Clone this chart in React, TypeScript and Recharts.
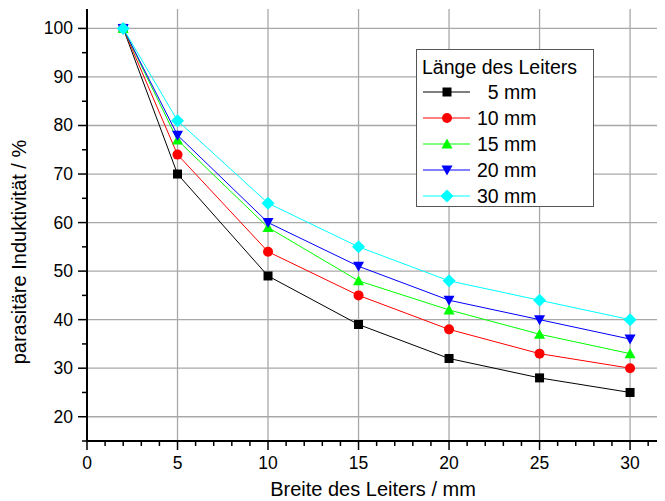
import React from 'react';
import {
  LineChart,
  Line,
  XAxis,
  YAxis,
  ReferenceLine,
  Legend
} from 'recharts';

const widths = [2, 5, 10, 15, 20, 25, 30];
const len5 = [100, 70, 49, 39, 32, 28, 25];
const len10 = [100, 74, 54, 45, 38, 33, 30];
const len15 = [100, 77, 59, 48, 42, 37, 33];
const len20 = [100, 78, 60, 51, 44, 40, 36];
const len30 = [100, 81, 64, 55, 48, 44, 40];

const xTicks = Array.from({ length: 32 }, (_, i) => i);
const yTicks = [15, 20, 25, 30, 35, 40, 45, 50, 55, 60, 65, 70, 75, 80, 85, 90, 95, 100];
const xGrid = [5, 10, 15, 20, 25, 30];
const yGrid = [20, 30, 40, 50, 60, 70, 80, 90, 100];

const data = widths.map((w, i) => ({
  w,
  l5: len5[i],
  l10: len10[i],
  l15: len15[i],
  l20: len20[i],
  l30: len30[i]
}));

const FONT = '"Liberation Sans", Arial, sans-serif';

type Shape = 'square' | 'circle' | 'up' | 'down' | 'diamond';

const series: { key: string; name: string; color: string; shape: Shape }[] = [
  { key: 'l5', name: '  5 mm', color: '#000000', shape: 'square' },
  { key: 'l10', name: '10 mm', color: '#ff0000', shape: 'circle' },
  { key: 'l15', name: '15 mm', color: '#00ff00', shape: 'up' },
  { key: 'l20', name: '20 mm', color: '#0000ff', shape: 'down' },
  { key: 'l30', name: '30 mm', color: '#00ffff', shape: 'diamond' }
];

const marker = (shape: Shape, cx: number, cy: number, color: string, key?: string) => {
  switch (shape) {
    case 'square':
      return <rect key={key} x={cx - 4.5} y={cy - 4.5} width={9} height={9} fill={color} />;
    case 'circle':
      return <circle key={key} cx={cx} cy={cy} r={5} fill={color} />;
    case 'up':
      return <polygon key={key} points={`${cx - 5.5},${cy + 4.5} ${cx + 5.5},${cy + 4.5} ${cx},${cy - 5.5}`} fill={color} />;
    case 'down':
      return <polygon key={key} points={`${cx - 5.5},${cy - 4.5} ${cx + 5.5},${cy - 4.5} ${cx},${cy + 5.5}`} fill={color} />;
    default:
      return <polygon key={key} points={`${cx},${cy - 6.5} ${cx + 6.5},${cy} ${cx},${cy + 6.5} ${cx - 6.5},${cy}`} fill={color} />;
  }
};

const XTick = (props: any) => {
  const { x, y, payload } = props;
  const major = payload.value % 5 === 0;
  return (
    <g>
      <line x1={x} x2={x} y1={y} y2={y + (major ? 9 : 5)} stroke="#000" strokeWidth={1.5} />
      {major && (
        <text x={x} y={y + 28} textAnchor="middle" fontSize={17.5} fontFamily={FONT} fill="#000">
          {payload.value}
        </text>
      )}
    </g>
  );
};

const YTick = (props: any) => {
  const { x, y, payload } = props;
  const major = payload.value % 10 === 0;
  return (
    <g>
      <line x1={x - (major ? 9 : 5)} x2={x} y1={y} y2={y} stroke="#000" strokeWidth={1.5} />
      {major && (
        <text x={x - 14} y={y + 6} textAnchor="end" fontSize={17.5} fontFamily={FONT} fill="#000">
          {payload.value}
        </text>
      )}
    </g>
  );
};

const XTitle = (props: any) => {
  const { viewBox } = props;
  return (
    <text x={viewBox.x + viewBox.width / 2 - 3} y={488} textAnchor="middle" fontSize={20} fontFamily={FONT} fill="#000">
      Breite des Leiters / mm
    </text>
  );
};

const YTitle = () => (
  <text
    x={18}
    y={244}
    transform="rotate(-90, 18, 244)"
    textAnchor="middle"
    fontSize={20}
    fontFamily={FONT}
    fill="#000"
  >
    parasitäre Induktivität / %
  </text>
);

const LegendBox = () => (
  <div
    style={{
      width: 178,
      height: 158,
      border: '1px solid #555',
      background: '#fff',
      boxSizing: 'border-box'
    }}
  >
    <svg width={176} height={156}>
      <text x={5} y={24} fontSize={19.5} fontFamily={FONT} fill="#000">
        Länge des Leiters
      </text>
      {series.map((s, i) => {
        const cy = 42 + i * 26;
        return (
          <g key={s.key}>
            <line x1={6} x2={53} y1={cy} y2={cy} stroke={s.color} strokeWidth={1} />
            {marker(s.shape, 30, cy, s.color)}
            <text x={60} y={cy + 7} fontSize={19.5} fontFamily={FONT} fill="#000" style={{ whiteSpace: 'pre' }}>
              {s.name}
            </text>
          </g>
        );
      })}
    </svg>
  </div>
);

export default function App() {
  return (
    <div style={{ width: 657, height: 493, position: 'relative' }}>
      <LineChart width={657} height={493} data={data} margin={{ top: 1, right: 0, left: 0, bottom: 0 }}>
        {xGrid.map((v) => (
          <ReferenceLine key={`x${v}`} x={v} stroke="#a8a8a8" strokeWidth={1.3} />
        ))}
        {yGrid.map((v) => (
          <ReferenceLine key={`y${v}`} y={v} stroke="#a8a8a8" strokeWidth={1.3} />
        ))}
        <XAxis
          dataKey="w"
          type="number"
          domain={[0, 31.93]}
          ticks={xTicks}
          interval={0}
          allowDataOverflow
          height={60}
          tickSize={0}
          tickMargin={0}
          tickLine={false}
          tick={<XTick />}
          axisLine={{ stroke: '#000', strokeWidth: 2 }}
          label={<XTitle />}
        />
        <YAxis
          type="number"
          domain={[15, 104]}
          ticks={yTicks}
          interval={0}
          allowDataOverflow
          width={79}
          tickSize={0}
          tickMargin={0}
          tickLine={false}
          tick={<YTick />}
          axisLine={{ stroke: '#000', strokeWidth: 2 }}
          label={<YTitle />}
        />
        {series.map((s) => (
          <Line
            key={s.key}
            dataKey={s.key}
            name={s.name}
            stroke={s.color}
            strokeWidth={1}
            isAnimationActive={false}
            dot={(p: any) => marker(s.shape, p.cx, p.cy, s.color, `${s.key}-${p.index}`)}
            activeDot={false}
          />
        ))}
        <Legend
          layout="vertical"
          align="center"
          verticalAlign="middle"
          wrapperStyle={{ left: 408, top: 41, width: 178 }}
          content={() => <LegendBox />}
        />
      </LineChart>
    </div>
  );
}
